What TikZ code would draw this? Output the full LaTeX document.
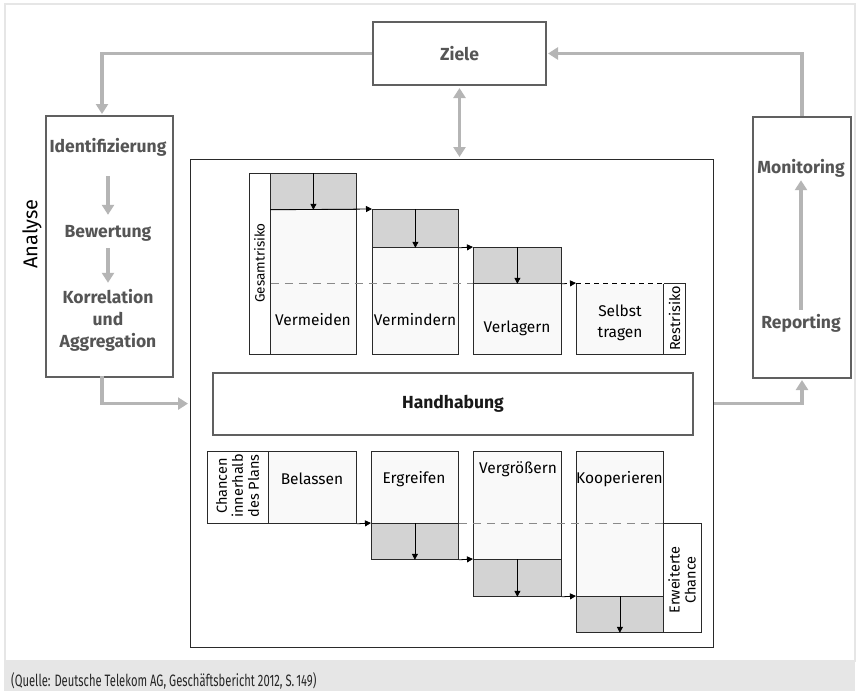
\documentclass[tikz,border=0pt]{standalone}
\usepackage{fontspec}
\usepackage{graphicx}
\setmainfont{Fira Sans}
\usetikzlibrary{arrows.meta}

\definecolor{framegray}{HTML}{E6E6E6}
\definecolor{boxgray}{HTML}{606060}
\definecolor{arrgray}{HTML}{B5B5B5}
\definecolor{labgray}{HTML}{555555}
\definecolor{blkfill}{HTML}{F9F9F9}
\definecolor{shadefill}{HTML}{D3D3D3}
\definecolor{blkline}{HTML}{2A2A2A}
\definecolor{dashgray}{HTML}{8A8A8A}

\begin{document}
\begin{tikzpicture}[x=1pt,y=-1pt,
  procbox/.style={draw=boxgray,line width=2pt,fill=white,inner sep=0pt,anchor=north west},
  mainbox/.style={draw=blkline,line width=1.2pt,fill=white,inner sep=0pt,anchor=north west},
  flow/.style={draw=arrgray,line width=3.6pt,-{Triangle[length=10pt,width=12pt]}},
  flowboth/.style={draw=arrgray,line width=3.6pt,{Triangle[length=10pt,width=12pt]}-{Triangle[length=10pt,width=12pt]}},
  boldlab/.style={text=labgray,font=\fontsize{17.5}{22}\selectfont\bfseries,align=center,inner sep=0pt},
  blk/.style={draw=blkline,line width=0.8pt,fill=blkfill,inner sep=0pt,anchor=north west},
  shadeblk/.style={blk,fill=shadefill},
  blktext/.style={font=\fontsize{15.5}{21}\selectfont,align=center,inner sep=0pt},
  sidetext/.style={font=\fontsize{14.5}{16}\selectfont,align=center,inner sep=0pt,rotate=90},
  steparrow/.style={draw=black,line width=0.8pt,-{Triangle[length=6pt,width=6pt]}},
  dashline/.style={draw=dashgray,line width=1pt,dash pattern=on 8pt off 6pt},
]
\useasboundingbox (0,0) rectangle (859,691);

% page frame and source band
\draw[framegray,line width=2.5pt] (5,4) rectangle (855,661);
\fill[framegray] (4,661) rectangle (855,691);
\node[anchor=base west,inner sep=0pt,text=black!85] (src) at (11,686)
  {\scalebox{0.68}[1]{\fontsize{16.5}{18}\selectfont (Quelle: Deutsche Telekom AG, Geschäftsbericht 2012, S.\,149)}};

% outer process boxes
\node[procbox,minimum width=173pt,minimum height=63pt] (ziele) at (372,21) {};
\node[boldlab] (zielet) at (ziele.center) {Ziele};
\node[procbox,minimum width=127pt,minimum height=261pt] (ana) at (45,115) {};
\node[procbox,minimum width=98pt,minimum height=261pt] (mon) at (752,116) {};
\node[mainbox,minimum width=523pt,minimum height=488pt] (main) at (190,159) {};

\node[rotate=90,font=\fontsize{20}{22}\selectfont,inner sep=0pt] (anal) at (32,234) {Analyse};

% analysis steps
\node[boldlab] (ident) at (108,147) {Identifizierung};
\node[boldlab] (bew) at (108,233) {Bewertung};
\node[boldlab] (korr) at (108,320) {Korrelation\\und\\Aggregation};
\draw[flow,shorten <=20pt,shorten >=10pt] (ident.south) -- (bew.north);
\draw[flow,shorten <=7pt,shorten >=6pt] (bew.south) -- (korr.north);

% monitoring and reporting
\node[boldlab] (monit) at (801,168) {Monitoring};
\node[boldlab] (rep) at (801,323) {Reporting};
\draw[flow,shorten <=4pt,shorten >=3pt] (rep.north) -- (monit.south);

% cycle connectors
\coordinate (anatop) at (102,115);
\coordinate (anabot) at (102,376);
\draw[flow,shorten >=1pt] (ziele.west) -| (anatop);
\draw[flow,shorten >=2pt] (anabot) |- (main.west);
\draw[flow,shorten >=1pt] (main.east) -| (mon.south);
\draw[flow,shorten >=1pt] (mon.north) |- (ziele.east);
\draw[flowboth,shorten <=2pt,shorten >=2pt] (ziele.south) -- (ziele.south |- main.north);

% handling bar
\node[procbox,minimum width=480pt,minimum height=62pt] (hand) at (212,372) {};
\node[font=\fontsize{17.5}{20}\selectfont\bfseries,inner sep=0pt,text=black!90] (handt) at (hand.center) {Handhabung};

% risk side
\node[blk,minimum width=21pt,minimum height=181pt,fill=white] (gs) at (249,173) {};
\node[rotate=90,font=\fontsize{13.5}{14}\selectfont,inner sep=0pt] (gst) at (259.5,263) {Gesamtrisiko};
\node[blk,minimum width=86pt,minimum height=181pt] (vm) at (270,173) {};
\node[shadeblk,minimum width=86pt,minimum height=36pt] (vmg) at (270,173) {};
\node[blk,minimum width=86pt,minimum height=145pt] (vn) at (372,209) {};
\node[shadeblk,minimum width=86pt,minimum height=38pt] (vng) at (372,209) {};
\node[blk,minimum width=88pt,minimum height=107pt] (vl) at (473,247) {};
\node[shadeblk,minimum width=88pt,minimum height=36pt] (vlg) at (473,247) {};
\node[blk,minimum width=87pt,minimum height=71pt] (st) at (576,283) {};
\node[blk,minimum width=22pt,minimum height=71pt,fill=white] (rr) at (663,283) {};

\node[blktext] (vmt) at (313,320) {Vermeiden};
\node[blktext] (vnt) at (415,320) {Vermindern};
\node[blktext] (vlt) at (517,328) {Verlagern};
\node[blktext] (stt) at (620,323) {Selbst\\tragen};
\node[sidetext] (rrt) at (674.5,318.5) {Restrisiko};

\draw[steparrow] (vmg.north) -- (vmg.south);
\draw[steparrow] (vng.north) -- (vng.south);
\draw[steparrow] (vlg.north) -- (vlg.south);
\draw[steparrow] (vmg.south west) -- (vn.north west);
\draw[steparrow] (vng.south east) -- (vl.north west);
\draw[dashline] (gs.east |- vlg.south) -- (vlg.south west);
\draw[white,line width=1pt] (st.north west) -- (st.north east);
\draw[black,line width=0.8pt,dash pattern=on 5pt off 4pt] (st.north west) -- (st.north east);
\draw[steparrow,dash pattern=on 5pt off 4pt] (vlg.south east) -- (st.north west);

% opportunity side
\node[blk,minimum width=61pt,minimum height=72pt,fill=white] (ch) at (207,451) {};
\node[sidetext] (cht) at (237.5,486) {Chancen\\innerhalb\\des Plans};
\node[blk,minimum width=88pt,minimum height=72pt] (bl) at (268,451) {};
\node[blk,minimum width=87pt,minimum height=108pt] (er) at (371,451) {};
\node[shadeblk,minimum width=87pt,minimum height=36pt] (erg) at (371,523) {};
\node[blk,minimum width=88pt,minimum height=145pt] (vg) at (473,451) {};
\node[shadeblk,minimum width=88pt,minimum height=37pt] (vgg) at (473,559) {};
\node[blk,minimum width=87pt,minimum height=181pt] (ko) at (576,451) {};
\node[shadeblk,minimum width=87pt,minimum height=36pt] (kog) at (576,596) {};
\node[blk,minimum width=38pt,minimum height=109pt,fill=white] (ew) at (663,523) {};

\node[blktext] (blt) at (312,479) {Belassen};
\node[blktext] (ert) at (414,479) {Ergreifen};
\node[blktext] (vgt) at (518,469) {Vergrößern};
\node[blktext] (kot) at (619.5,479) {Kooperieren};
\node[sidetext] (ewt) at (682,580) {Erweiterte\\Chance};

\draw[dashline] (erg.north east) -- (ew.north west);
\draw[steparrow] (erg.north) -- (erg.south);
\draw[steparrow] (vgg.north) -- (vgg.south);
\draw[steparrow] (kog.north) -- (kog.south);
\draw[steparrow] (bl.south east) -- (erg.north west);
\draw[steparrow] (erg.south east) -- (vgg.north west);
\draw[steparrow] (vgg.south east) -- (kog.north west);
\end{tikzpicture}
\end{document}
